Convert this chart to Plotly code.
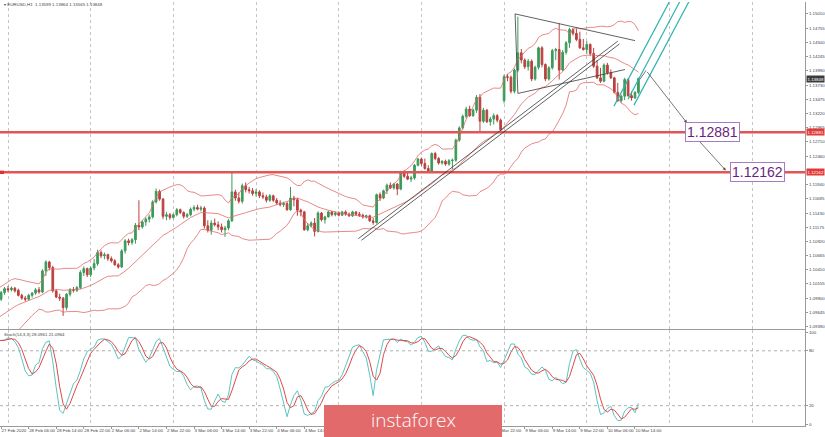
import pandas as pd
import plotly.graph_objects as go

symbol_title = "▾ EURUSD,H1  1.13599 1.13864 1.13565 1.13848"
stoch_title = "Stoch(14,3,3) 28.0961 21.0964"

# hourly bars, index 0 = 28 Feb 00:00 (negative = 27 Feb)
bar_index = list(range(-22, 184))

opens = [
    1.0906, 1.0912, 1.0918, 1.0921, 1.0926, 1.0930, 1.0928, 1.0935, 1.0941, 1.0945,
    1.0950, 1.0956, 1.0961, 1.0966, 1.0972, 1.0978, 1.0985, 1.0983, 1.0990, 1.0996,
    1.0988, 1.1000,
    1.1007, 1.1005, 1.1008, 1.1004, 1.0995, 1.0990, 1.0988, 1.0995, 1.0999, 1.1005,
    1.1001, 1.1039, 1.1055, 1.1045, 1.1003, 1.0992, 1.0990, 1.0973, 1.0997, 1.1005,
    1.1004, 1.1009, 1.1036, 1.1043,
    1.1032, 1.1044, 1.1052, 1.1072, 1.1066, 1.1068, 1.1061, 1.1057, 1.1050, 1.1046,
    1.1075, 1.1093, 1.1090, 1.1095, 1.1121, 1.1118, 1.1127, 1.1132, 1.1136, 1.1163,
    1.1182, 1.1168, 1.1137, 1.1140,
    1.1135, 1.1140, 1.1149, 1.1144, 1.1137, 1.1140, 1.1150, 1.1153, 1.1150, 1.1152,
    1.1120, 1.1112, 1.1125, 1.1122, 1.1118, 1.1113, 1.1116, 1.1129, 1.1181, 1.1170,
    1.1164, 1.1192, 1.1185, 1.1183,
    1.1178, 1.1181, 1.1174, 1.1172, 1.1166, 1.1174, 1.1166, 1.1161, 1.1158, 1.1160,
    1.1149, 1.1170, 1.1167, 1.1148, 1.1145, 1.1113, 1.1120, 1.1125, 1.1110, 1.1143,
    1.1131, 1.1136, 1.1145, 1.1140,
    1.1143, 1.1139, 1.1145, 1.1141, 1.1138, 1.1145, 1.1141, 1.1139, 1.1136, 1.1138,
    1.1129, 1.1126, 1.1176, 1.1170, 1.1183, 1.1193, 1.1188, 1.1195, 1.1186, 1.1216,
    1.1209, 1.1204, 1.1206, 1.1229,
    1.1240, 1.1232, 1.1223, 1.1218, 1.1250, 1.1241, 1.1233, 1.1236, 1.1231, 1.1237,
    1.1238, 1.1274, 1.1296, 1.1317, 1.1330, 1.1318, 1.1328, 1.1351, 1.1308, 1.1328,
    1.1307, 1.1312, 1.1318, 1.1310,
    1.1345, 1.1388, 1.1387, 1.1362, 1.1400, 1.1431, 1.1418, 1.1406, 1.1416, 1.1384,
    1.1405, 1.1440, 1.1410, 1.1384, 1.1404, 1.1435, 1.1437, 1.1400, 1.1432, 1.1449,
    1.1473, 1.1466, 1.1455, 1.1440,
    1.1437, 1.1446, 1.1430, 1.1407, 1.1386, 1.1380, 1.1409, 1.1395, 1.1386, 1.1360,
    1.1345, 1.1353, 1.1383, 1.1354, 1.1350, 1.13599,
]
highs = [
    1.0915, 1.0921, 1.0925, 1.0930, 1.0934, 1.0936, 1.0938, 1.0945, 1.0949, 1.0954,
    1.0960, 1.0965, 1.0970, 1.0976, 1.0982, 1.0990, 1.0993, 1.0995, 1.1000, 1.0999,
    1.1003, 1.1010,
    1.1012, 1.1011, 1.1010, 1.1007, 1.0998, 1.0994, 1.0998, 1.1001, 1.1008, 1.1010,
    1.1042, 1.1058, 1.1057, 1.1048, 1.1006, 1.0998, 1.0992, 1.0999, 1.1008, 1.1010,
    1.1012, 1.1040, 1.1047, 1.1045,
    1.1047, 1.1060, 1.1077, 1.1076, 1.1072, 1.1070, 1.1065, 1.1060, 1.1053, 1.1078,
    1.1096, 1.1097, 1.1098, 1.1125, 1.1166, 1.1130, 1.1135, 1.1140, 1.1166, 1.1187,
    1.1185, 1.1170, 1.1145, 1.1143,
    1.1142, 1.1152, 1.1151, 1.1146, 1.1143, 1.1153, 1.1157, 1.1158, 1.1156, 1.1155,
    1.1130, 1.1130, 1.1133, 1.1128, 1.1124, 1.1120, 1.1132, 1.1217, 1.1185, 1.1180,
    1.1196, 1.1198, 1.1190, 1.1188,
    1.1186, 1.1184, 1.1180, 1.1176, 1.1177, 1.1176, 1.1170, 1.1166, 1.1163, 1.1163,
    1.1190, 1.1174, 1.1170, 1.1151, 1.1147, 1.1125, 1.1128, 1.1134, 1.1146, 1.1145,
    1.1138, 1.1147, 1.1147, 1.1146,
    1.1146, 1.1147, 1.1148, 1.1144, 1.1147, 1.1146, 1.1145, 1.1142, 1.1140, 1.1140,
    1.1134, 1.1178, 1.1180, 1.1185, 1.1196, 1.1198, 1.1197, 1.1197, 1.1219, 1.1220,
    1.1216, 1.1210, 1.1231, 1.1242,
    1.1243, 1.1241, 1.1229, 1.1252, 1.1253, 1.1244, 1.1238, 1.1239, 1.1240, 1.1241,
    1.1277, 1.1299, 1.1320, 1.1334, 1.1336, 1.1331, 1.1355, 1.1357, 1.1332, 1.1330,
    1.1316, 1.1322, 1.1321, 1.1313,
    1.1392, 1.1393, 1.1390, 1.1403, 1.1496, 1.1438, 1.1421, 1.1420, 1.1419, 1.1408,
    1.1442, 1.1443, 1.1412, 1.1407, 1.1438, 1.1440, 1.1484, 1.1436, 1.1452, 1.1476,
    1.1476, 1.1475, 1.1469, 1.1456,
    1.1452, 1.1448, 1.1440, 1.1418, 1.1404, 1.1412, 1.1413, 1.1401, 1.1388, 1.1377,
    1.1356, 1.1386, 1.1385, 1.1362, 1.1362, 1.13864,
]
lows = [
    1.0902, 1.0908, 1.0913, 1.0917, 1.0921, 1.0923, 1.0925, 1.0931, 1.0936, 1.0940,
    1.0946, 1.0951, 1.0957, 1.0961, 1.0968, 1.0974, 1.0978, 1.0980, 1.0986, 1.0984,
    1.0985, 1.0996,
    1.1001, 1.1002, 1.1000, 1.0993, 1.0987, 1.0984, 1.0986, 1.0991, 1.0996, 1.0998,
    1.0999, 1.1030, 1.1040, 1.1000, 1.0990, 1.0985, 1.0958, 1.0968, 1.0993, 1.1000,
    1.1001, 1.1006, 1.1030, 1.1028,
    1.1028, 1.1040, 1.1048, 1.1062, 1.1060, 1.1057, 1.1054, 1.1048, 1.1043, 1.1044,
    1.1070, 1.1085, 1.1086, 1.1088, 1.1112, 1.1115, 1.1120, 1.1126, 1.1133, 1.1160,
    1.1165, 1.1132, 1.1130, 1.1131,
    1.1133, 1.1137, 1.1141, 1.1133, 1.1134, 1.1137, 1.1146, 1.1148, 1.1146, 1.1115,
    1.1108, 1.1104, 1.1119, 1.1112, 1.1108, 1.1100, 1.1112, 1.1127, 1.1165, 1.1160,
    1.1160, 1.1180, 1.1178, 1.1174,
    1.1173, 1.1170, 1.1168, 1.1162, 1.1163, 1.1163, 1.1158, 1.1155, 1.1154, 1.1147,
    1.1147, 1.1155, 1.1138, 1.1137, 1.1111, 1.1110, 1.1117, 1.1101, 1.1108, 1.1128,
    1.1124, 1.1135, 1.1137, 1.1137,
    1.1137, 1.1138, 1.1138, 1.1136, 1.1136, 1.1138, 1.1136, 1.1133, 1.1133, 1.1127,
    1.1122, 1.1124, 1.1165, 1.1168, 1.1177, 1.1186, 1.1185, 1.1175, 1.1184, 1.1206,
    1.1202, 1.1199, 1.1203, 1.1227,
    1.1228, 1.1221, 1.1216, 1.1216, 1.1238, 1.1230, 1.1230, 1.1228, 1.1228, 1.1222,
    1.1235, 1.1271, 1.1293, 1.1313, 1.1316, 1.1316, 1.1323, 1.1290, 1.1305, 1.1305,
    1.1300, 1.1302, 1.1306, 1.1290,
    1.1340, 1.1380, 1.1358, 1.1358, 1.1396, 1.1412, 1.1402, 1.1399, 1.1380, 1.1381,
    1.1401, 1.1405, 1.1380, 1.1381, 1.1401, 1.1418, 1.1383, 1.1398, 1.1428, 1.1440,
    1.1462, 1.1452, 1.1438, 1.1435,
    1.1429, 1.1425, 1.1404, 1.1384, 1.1377, 1.1378, 1.1392, 1.1384, 1.1358, 1.1343,
    1.1341, 1.1346, 1.1352, 1.1345, 1.1348, 1.13565,
]
closes = [
    1.0912, 1.0918, 1.0921, 1.0926, 1.0930, 1.0928, 1.0935, 1.0941, 1.0945, 1.0950,
    1.0956, 1.0961, 1.0966, 1.0972, 1.0978, 1.0985, 1.0983, 1.0990, 1.0996, 1.0988,
    1.1000, 1.1007,
    1.1005, 1.1008, 1.1003, 1.0995, 1.0990, 1.0988, 1.0995, 1.0999, 1.1005, 1.1001,
    1.1039, 1.1055, 1.1045, 1.1003, 1.0992, 1.0990, 1.0973, 1.0997, 1.1005, 1.1004,
    1.1009, 1.1036, 1.1043, 1.1032,
    1.1044, 1.1052, 1.1072, 1.1066, 1.1068, 1.1061, 1.1057, 1.1050, 1.1046, 1.1075,
    1.1093, 1.1090, 1.1095, 1.1121, 1.1118, 1.1127, 1.1132, 1.1136, 1.1163, 1.1182,
    1.1168, 1.1137, 1.1140, 1.1135,
    1.1140, 1.1149, 1.1144, 1.1137, 1.1140, 1.1150, 1.1153, 1.1150, 1.1152, 1.1120,
    1.1112, 1.1125, 1.1122, 1.1118, 1.1113, 1.1116, 1.1129, 1.1181, 1.1170, 1.1164,
    1.1192, 1.1185, 1.1183, 1.1178,
    1.1181, 1.1174, 1.1172, 1.1166, 1.1174, 1.1166, 1.1161, 1.1158, 1.1160, 1.1149,
    1.1170, 1.1167, 1.1148, 1.1145, 1.1113, 1.1120, 1.1125, 1.1110, 1.1143, 1.1131,
    1.1136, 1.1145, 1.1140, 1.1143,
    1.1139, 1.1145, 1.1141, 1.1138, 1.1145, 1.1141, 1.1139, 1.1136, 1.1138, 1.1129,
    1.1126, 1.1176, 1.1170, 1.1183, 1.1193, 1.1188, 1.1195, 1.1186, 1.1216, 1.1209,
    1.1204, 1.1206, 1.1229, 1.1240,
    1.1232, 1.1223, 1.1218, 1.1250, 1.1241, 1.1233, 1.1236, 1.1231, 1.1237, 1.1238,
    1.1274, 1.1296, 1.1317, 1.1330, 1.1318, 1.1328, 1.1351, 1.1308, 1.1328, 1.1307,
    1.1312, 1.1318, 1.1310, 1.1293,
    1.1388, 1.1387, 1.1362, 1.1400, 1.1431, 1.1418, 1.1406, 1.1416, 1.1384, 1.1405,
    1.1440, 1.1410, 1.1384, 1.1404, 1.1435, 1.1437, 1.1400, 1.1432, 1.1449, 1.1473,
    1.1466, 1.1455, 1.1440, 1.1437,
    1.1446, 1.1430, 1.1407, 1.1386, 1.1380, 1.1409, 1.1395, 1.1386, 1.1360, 1.1345,
    1.1353, 1.1383, 1.1354, 1.1350, 1.1360, 1.13848,
]

price_ticks = [1.15010, 1.14755, 1.14500, 1.14245, 1.13990, 1.13730, 1.13475, 1.13220,
               1.12965, 1.12710, 1.12455, 1.11940, 1.11685, 1.11430, 1.11175, 1.10920,
               1.10665, 1.10410, 1.10155, 1.09900, 1.09645, 1.09390]
price_tick_text = ["1.15010", "1.14755", "1.14500", "1.14245", "1.13990", "1.13730",
                   "1.13475", "1.13220", "1.12965", "1.12710", "1.12460", "1.11940",
                   "1.11685", "1.11430", "1.11175", "1.10920", "1.10665", "1.10410",
                   "1.10155", "1.09900", "1.09645", "1.09390"]
day_starts = [0, 24, 48, 72, 96, 120, 144, 168, 192, 216]
# time labels left visible by the logo plate
time_label_pos = [-2, 6, 14, 22, 30, 38, 46, 54, 62, 70, 78, 86,
                  142, 150, 158, 166, 174, 182]
time_labels = ["27 Feb 2020", "28 Feb 06:00", "28 Feb 14:00", "28 Feb 22:00",
               "2 Mar 06:00", "2 Mar 14:00", "2 Mar 22:00", "3 Mar 06:00", "3 Mar 14:00",
               "3 Mar 22:00", "4 Mar 06:00", "4 Mar 14:00",
               "6 Mar 22:00", "9 Mar 06:00", "9 Mar 14:00", "9 Mar 22:00",
               "10 Mar 06:00", "10 Mar 14:00"]
stoch_ticks = [0, 20, 80, 100]

level_1 = 1.12881
level_2 = 1.12162
current_price = 1.13848

# drawn objects: (bar, price) end points
trend_lines = [((101.7, 1.1097), (177.0, 1.1452)), ((102.6, 1.1094), (177.5, 1.1447))]
triangle_lines = [((147.2, 1.1501), (182.0, 1.1453)), ((148.0, 1.1358), (179.1, 1.1401)),
                  ((147.2, 1.1501), (148.0, 1.1358))]
channel_lines = [((175.9, 1.13352), (192.25, 1.1526)), ((179.97, 1.13477), (195.24, 1.1526)),
                 ((181.71, 1.13370), (197.91, 1.1526))]
path_start = [(183.45, 1.13834), (185.2, 1.13994)]
arrow_1 = ((185.2, 1.13994), (197.1, 1.13049))
arrow_2 = ((200.3, 1.12746), (208.4, 1.12193))
label_1_pos = 204.5
label_2_pos = 217.6

# ---- indicators ----
df = pd.DataFrame({"t": bar_index, "o": opens, "h": highs, "l": lows, "c": closes})
mid = df["c"].rolling(20).mean()
sd = df["c"].rolling(20).std(ddof=0)
upper = mid + 2 * sd
lower = mid - 2 * sd
hh = df["h"].rolling(14).max()
ll = df["l"].rolling(14).min()
k = 100 * (df["c"] - ll).rolling(3).sum() / (hh - ll).rolling(3).sum()
d = k.rolling(3).mean()

GREEN = "#3c9a5a"
RED = "#b8423f"
BB = "#e26a6a"

fig = go.Figure()
fig.add_trace(go.Candlestick(
    x=df["t"], open=df["o"], high=df["h"], low=df["l"], close=df["c"],
    increasing=dict(line=dict(color=GREEN, width=1), fillcolor=GREEN),
    decreasing=dict(line=dict(color=RED, width=1), fillcolor=RED),
    whiskerwidth=0, xaxis="x", yaxis="y", showlegend=False, hoverinfo="skip"))
for band in (upper, mid, lower):
    fig.add_trace(go.Scatter(x=df["t"], y=band, mode="lines",
                             line=dict(color=BB, width=0.8), xaxis="x", yaxis="y",
                             showlegend=False, hoverinfo="skip"))
fig.add_trace(go.Scatter(x=df["t"], y=k, mode="lines", line=dict(color="#5cc3c3", width=1),
                         xaxis="x2", yaxis="y2", showlegend=False, hoverinfo="skip"))
fig.add_trace(go.Scatter(x=df["t"], y=d, mode="lines", line=dict(color="#e04848", width=1),
                         xaxis="x2", yaxis="y2", showlegend=False, hoverinfo="skip"))
# invisible trace for the time label axis
fig.add_trace(go.Scatter(x=[time_label_pos[0]], y=[50], mode="markers", marker=dict(opacity=0),
                         xaxis="x3", yaxis="y2", showlegend=False, hoverinfo="skip"))

XR = [-2.322, 231.35]
XD = [0, 805 / 825]
TF = dict(family="Liberation Sans, Arial, sans-serif", size=4.4, color="#444")
grid = dict(showgrid=True, gridcolor="#c4c4c4", griddash="dot", gridwidth=1,
            tickvals=day_starts, showticklabels=False, zeroline=False)

fig.update_layout(
    width=825, height=437, margin=dict(l=0, r=0, t=0, b=0), autosize=False,
    paper_bgcolor="white", plot_bgcolor="white", showlegend=False,
    xaxis=dict(domain=XD, range=XR, anchor="y", showline=True, linecolor="#9a9a9a",
               rangeslider=dict(visible=False), ticks="", **grid),
    xaxis2=dict(domain=XD, range=XR, anchor="y2", showline=True, linecolor="#9a9a9a",
                ticks="", **grid),
    xaxis3=dict(domain=XD, range=XR, anchor="y2", overlaying="x2", side="bottom",
                tickvals=time_label_pos, ticktext=time_labels, tickfont=TF, tickangle=0,
                ticklabelposition="outside right", ticks="outside", ticklen=2,
                tickcolor="#999", showgrid=False, zeroline=False, showline=False),
    yaxis=dict(domain=[108 / 437, 435 / 437], range=[1.09345, 1.15224], side="right",
               tickvals=price_ticks, ticktext=price_tick_text, tickfont=TF,
               ticks="outside", ticklen=2, tickcolor="#999", showgrid=False,
               showline=True, linecolor="#9a9a9a", zeroline=False, anchor="x"),
    yaxis2=dict(domain=[11 / 437, 107 / 437], range=[-2.19, 102.73], side="right",
                tickvals=stoch_ticks, ticktext=[str(v) for v in stoch_ticks], tickfont=TF,
                ticks="outside", ticklen=2, tickcolor="#999", showgrid=False,
                showline=True, linecolor="#9a9a9a", zeroline=False, anchor="x2"),
)

shapes = []
for lv in (20, 80):
    shapes.append(dict(type="line", xref="paper", yref="y2", x0=0, x1=XD[1], y0=lv, y1=lv,
                       line=dict(color="#b0b0b0", width=1, dash="dot")))
for lv in (level_1, level_2):
    shapes.append(dict(type="line", xref="paper", yref="y", x0=0, x1=XD[1], y0=lv, y1=lv,
                       line=dict(color="#e05555", width=2.5)))
shapes.append(dict(type="rect", xref="paper", yref="y", x0=0, x1=4 / 825,
                   y0=level_2 - 0.0003, y1=level_2 + 0.0003, fillcolor="#e03030",
                   line=dict(width=0)))
for (a, b) in trend_lines + triangle_lines:
    shapes.append(dict(type="line", xref="x", yref="y", x0=a[0], y0=a[1], x1=b[0], y1=b[1],
                       line=dict(color="#3a3a3a", width=0.8)))
for (a, b) in channel_lines:
    shapes.append(dict(type="line", xref="x", yref="y", x0=a[0], y0=a[1], x1=b[0], y1=b[1],
                       line=dict(color="#2fb3b0", width=1.2)))
shapes.append(dict(type="line", xref="x", yref="y", x0=path_start[0][0], y0=path_start[0][1],
                   x1=path_start[1][0], y1=path_start[1][1], line=dict(color="#555", width=0.8)))
# instaforex logo plate
shapes.append(dict(type="rect", xref="paper", yref="paper", x0=324 / 825, x1=502 / 825,
                   y0=0, y1=32 / 437, fillcolor="#e26a6a", line=dict(width=0), layer="above"))
fig.update_layout(shapes=shapes)

ann = []
ann.append(dict(xref="paper", yref="paper", x=2 / 825, y=(437 - 5) / 437, text=symbol_title,
                showarrow=False, xanchor="left", yanchor="middle", font=TF))
ann.append(dict(xref="paper", yref="paper", x=2 / 825, y=(437 - 334) / 437, text=stoch_title,
                showarrow=False, xanchor="left", yanchor="middle", font=TF))
for (a, b) in (arrow_1, arrow_2):
    ann.append(dict(xref="x", yref="y", axref="x", ayref="y", x=b[0], y=b[1], ax=a[0], ay=a[1],
                    text="", showarrow=True, arrowhead=2, arrowsize=0.8, arrowwidth=0.8,
                    arrowcolor="#555"))
for pos, lv in ((label_1_pos, level_1), (label_2_pos, level_2)):
    ann.append(dict(xref="x", yref="y", x=pos, y=lv, text=f"{lv:.5f}", showarrow=False,
                    font=dict(family="Liberation Sans, Arial, sans-serif", size=14,
                              color="#6a1f7c"),
                    bgcolor="white", bordercolor="#a77bc0", borderwidth=1, borderpad=1))
for lv, col in ((level_1, "#e03a3a"), (level_2, "#e03a3a"), (current_price, "#3c3c3c")):
    ann.append(dict(xref="paper", yref="y", x=806 / 825, y=lv, text=f"{lv:.5f}",
                    showarrow=False, xanchor="left", yanchor="middle",
                    font=dict(family="Liberation Sans, Arial, sans-serif", size=4.4,
                              color="white"),
                    bgcolor=col, borderpad=0.5))
ann.append(dict(xref="paper", yref="paper", x=413 / 825, y=(437 - 420) / 437,
                text="instaforex", showarrow=False, xanchor="center", yanchor="middle",
                font=dict(family="Open Sans, Lato, sans-serif", size=19, color="white",
                          weight=300)))
fig.update_layout(annotations=ann)

fig.write_html("out.html")
